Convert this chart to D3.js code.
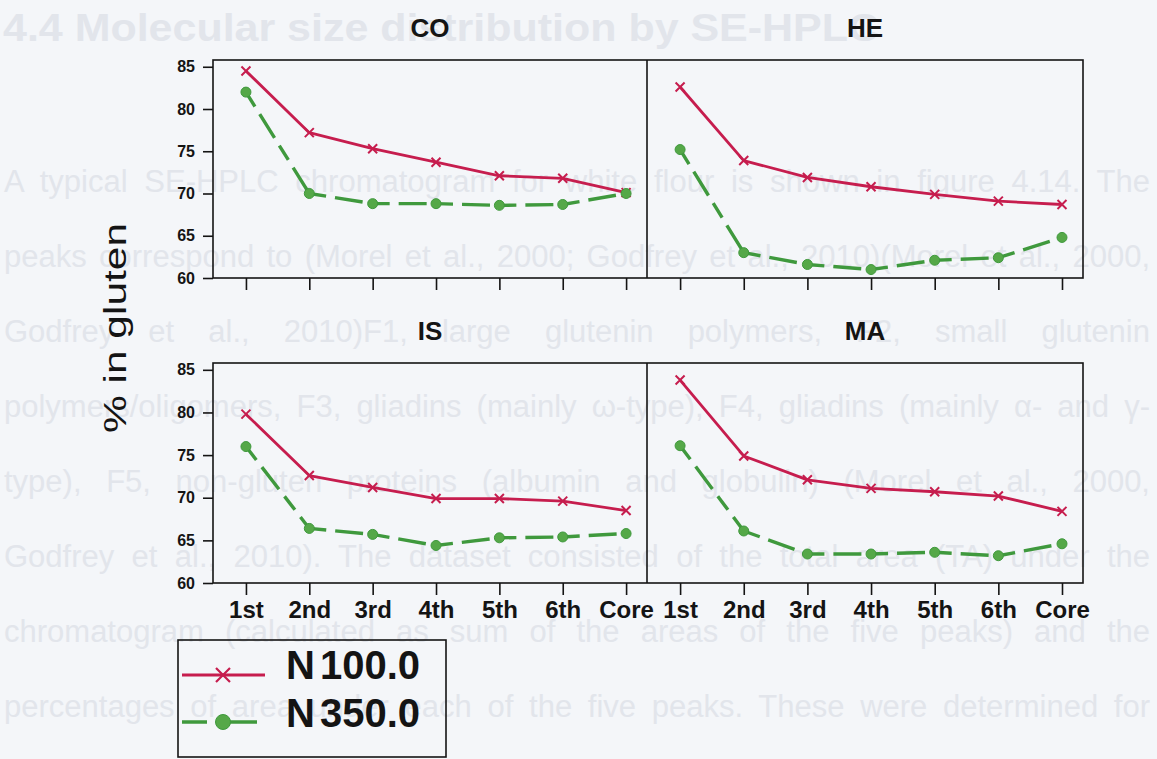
<!DOCTYPE html>
<html>
<head>
<meta charset="utf-8">
<script src="https://cdn.jsdelivr.net/npm/d3@7"></script>
<style>
  html, body { margin: 0; padding: 0; background: #f4f6f9; }
  svg { display: block; }
</style>
</head>
<body>
<svg id="chart" width="1157" height="759"></svg>
<script>
// Mill stream fractions on the x axis
const fractions = ["1st", "2nd", "3rd", "4th", "5th", "6th", "Core"];
// Panel titles (cultivars), laid out row by row
const panelNames = ["CO", "HE", "IS", "MA"];
// Nitrogen treatments shown in the legend
const seriesNames = ["N 100.0", "N 350.0"];
// y axis ticks, % in gluten
const yTicks = [60, 65, 70, 75, 80, 85];

// % in gluten per fraction, one array per panel and treatment
const coN100 = [84.5, 77.2, 75.3, 73.7, 72.1, 71.8, 70.1];
const coN350 = [82.0, 70.0, 68.8, 68.8, 68.6, 68.7, 70.0];
const heN100 = [82.6, 73.9, 71.9, 70.8, 69.9, 69.1, 68.7];
const heN350 = [75.2, 63.0, 61.6, 61.0, 62.1, 62.4, 64.8];
const isN100 = [79.8, 72.6, 71.2, 69.9, 69.9, 69.6, 68.5];
const isN350 = [76.0, 66.4, 65.7, 64.4, 65.3, 65.4, 65.8];
const maN100 = [83.8, 74.9, 72.1, 71.1, 70.7, 70.2, 68.4];
const maN350 = [76.1, 66.1, 63.4, 63.4, 63.6, 63.2, 64.6];

// Page text printed behind the figure
const pageHeading = "4.4 Molecular size distribution by SE-HPLC";
const pageLines = [
  "A typical SE-HPLC chromatogram for white flour is shown in figure 4.14. The",
  "peaks correspond to (Morel et al., 2000; Godfrey et al., 2010)(Morel et al., 2000,",
  "Godfrey et al., 2010)F1, large glutenin polymers, F2, small glutenin",
  "polymers/oligomers, F3, gliadins (mainly \u03c9-type), F4, gliadins (mainly \u03b1- and \u03b3-",
  "type), F5, non-gluten proteins (albumin and globulin) (Morel et al., 2000,",
  "Godfrey et al., 2010). The dataset consisted of the total area (TA) under the",
  "chromatogram (calculated as sum of the areas of the five peaks) and the",
  "percentages of area under each of the five peaks. These were determined for"
];

const panels = [
  { name: panelNames[0], row: 0, col: 0, s100: coN100, s350: coN350 },
  { name: panelNames[1], row: 0, col: 1, s100: heN100, s350: heN350 },
  { name: panelNames[2], row: 1, col: 0, s100: isN100, s350: isN350 },
  { name: panelNames[3], row: 1, col: 1, s100: maN100, s350: maN350 }
];

const RED = "#c61d4e";
const GREEN = "#3f993d";
const GREEN_DOT = "#55a848";
const INK = "#141414";
const FAINT = "#e2e5eb";
const FONT = "'Liberation Sans', Arial, Helvetica, sans-serif";

const svg = d3.select("#chart");

// ---- faint page text ----
const page = svg.append("g").attr("fill", FAINT).style("font-family", FONT);
page.append("text")
  .attr("x", 3).attr("y", 41)
  .attr("font-size", 39).attr("font-weight", "bold")
  .attr("textLength", 876).attr("lengthAdjust", "spacingAndGlyphs")
  .text(pageHeading);

pageLines.forEach((line, i) => {
  const t = page.append("text")
    .attr("x", 4).attr("y", 192 + i * 75)
    .attr("font-size", 31)
    .text(line);
  const natural = t.node().getComputedTextLength();
  const gaps = line.split(" ").length - 1;
  const target = 1146;
  if (natural > target) {
    t.attr("textLength", target).attr("lengthAdjust", "spacingAndGlyphs");
  } else if (gaps > 0) {
    t.style("word-spacing", ((target - natural) / gaps) + "px");
  }
});

// ---- layout ----
const colEdges = [[213, 647], [647, 1083]];
const rows = [{ top: 60, height: 218 }, { top: 363, height: 220 }];

const xScales = colEdges.map(([l, r]) =>
  d3.scaleLinear().domain([-0.52, 6.33]).range([l, r]));
const yScales = rows.map(r =>
  d3.scaleLinear().domain([60, 85.8]).range([r.top + r.height, r.top]));

const chart = svg.append("g").style("font-family", FONT);

// frames
rows.forEach((r, ri) => {
  chart.append("rect")
    .attr("x", colEdges[0][0]).attr("y", r.top)
    .attr("width", colEdges[1][1] - colEdges[0][0]).attr("height", r.height)
    .attr("fill", "none").attr("stroke", INK).attr("stroke-width", 1.6);
  chart.append("line")
    .attr("x1", colEdges[0][1]).attr("x2", colEdges[0][1])
    .attr("y1", r.top).attr("y2", r.top + r.height)
    .attr("stroke", INK).attr("stroke-width", 1.6);

  // y axis on the left of each row
  const ya = chart.append("g")
    .attr("transform", `translate(${colEdges[0][0]},0)`)
    .call(d3.axisLeft(yScales[ri]).tickValues(yTicks).tickSize(10).tickPadding(8));
  ya.select(".domain").remove();
  ya.selectAll(".tick line").attr("stroke", INK).attr("stroke-width", 1.6);
  ya.selectAll(".tick text")
    .attr("fill", INK).attr("font-size", 16).attr("font-weight", "bold")
    .style("font-family", FONT);

  // x axes under each panel
  colEdges.forEach((_, ci) => {
    const xa = chart.append("g")
      .attr("transform", `translate(0,${r.top + r.height})`)
      .call(d3.axisBottom(xScales[ci])
        .tickValues(d3.range(fractions.length))
        .tickFormat(i => fractions[i])
        .tickSize(12).tickPadding(6));
    xa.select(".domain").remove();
    xa.selectAll(".tick line").attr("stroke", INK).attr("stroke-width", 1.6);
    xa.selectAll(".tick text")
      .attr("fill", INK).attr("font-size", 24).attr("font-weight", "bold")
      .style("font-family", FONT)
      .style("display", ri === 1 ? null : "none");
  });
});

// panel titles
panels.forEach(p => {
  const [l, r] = colEdges[p.col];
  chart.append("text")
    .attr("x", (l + r) / 2).attr("y", rows[p.row].top - 23)
    .attr("text-anchor", "middle")
    .attr("font-size", 26).attr("font-weight", "bold").attr("fill", INK)
    .text(p.name);
});

// y axis title
chart.append("text")
  .attr("transform", "translate(126,328) rotate(-90)")
  .attr("text-anchor", "middle")
  .attr("font-size", 32).attr("fill", INK)
  .attr("textLength", 210).attr("lengthAdjust", "spacingAndGlyphs")
  .text("% in gluten");

// ---- series ----
const xMark = (g, cx, cy, s, w) => {
  g.append("path")
    .attr("d", `M${cx - s},${cy - s}L${cx + s},${cy + s}M${cx - s},${cy + s}L${cx + s},${cy - s}`)
    .attr("stroke", RED).attr("stroke-width", w).attr("fill", "none");
};

panels.forEach(p => {
  const x = xScales[p.col], y = yScales[p.row];
  const g = chart.append("g");
  const line = d3.line().x(d => x(d.i)).y(d => y(d.v));

  // N 100.0: solid red line with x markers
  const pts100 = p.s100.map((v, i) => ({ i, v }));
  g.append("path").attr("d", line(pts100))
    .attr("fill", "none").attr("stroke", RED).attr("stroke-width", 2.8)
    .attr("stroke-linejoin", "round");
  pts100.forEach(d => xMark(g, x(d.i), y(d.v), 4.5, 2));

  // N 350.0: dashed green line, pattern restarting at each point
  const pts350 = p.s350.map((v, i) => ({ i, v }));
  d3.pairs(pts350).forEach(([a, b]) => {
    g.append("path").attr("d", line([a, b]))
      .attr("fill", "none").attr("stroke", GREEN).attr("stroke-width", 3.4)
      .attr("stroke-dasharray", "17 9 28 9");
  });
  g.selectAll("circle.n350").data(pts350).enter().append("circle")
    .attr("class", "n350")
    .attr("cx", d => x(d.i)).attr("cy", d => y(d.v)).attr("r", 5)
    .attr("fill", GREEN_DOT).attr("stroke", GREEN).attr("stroke-width", 1);
});

// ---- legend ----
const leg = chart.append("g");
leg.append("rect")
  .attr("x", 178).attr("y", 640).attr("width", 268).attr("height", 117)
  .attr("fill", "none").attr("stroke", INK).attr("stroke-width", 1.6);

leg.append("line").attr("x1", 182).attr("x2", 265).attr("y1", 675).attr("y2", 675)
  .attr("stroke", RED).attr("stroke-width", 3);
xMark(leg, 223, 675, 7, 2.2);

leg.append("line").attr("x1", 182).attr("x2", 257).attr("y1", 722).attr("y2", 722)
  .attr("stroke", GREEN).attr("stroke-width", 3.6)
  .attr("stroke-dasharray", "25 12 60");
leg.append("circle").attr("cx", 223).attr("cy", 722).attr("r", 7.5)
  .attr("fill", GREEN_DOT).attr("stroke", GREEN).attr("stroke-width", 1);

seriesNames.forEach((s, i) => {
  leg.append("text")
    .attr("x", 286).attr("y", 679 + i * 48)
    .attr("font-size", 40).attr("font-weight", "bold").attr("fill", INK)
    .style("word-spacing", "-6px")
    .text(s);
});
</script>
</body>
</html>
